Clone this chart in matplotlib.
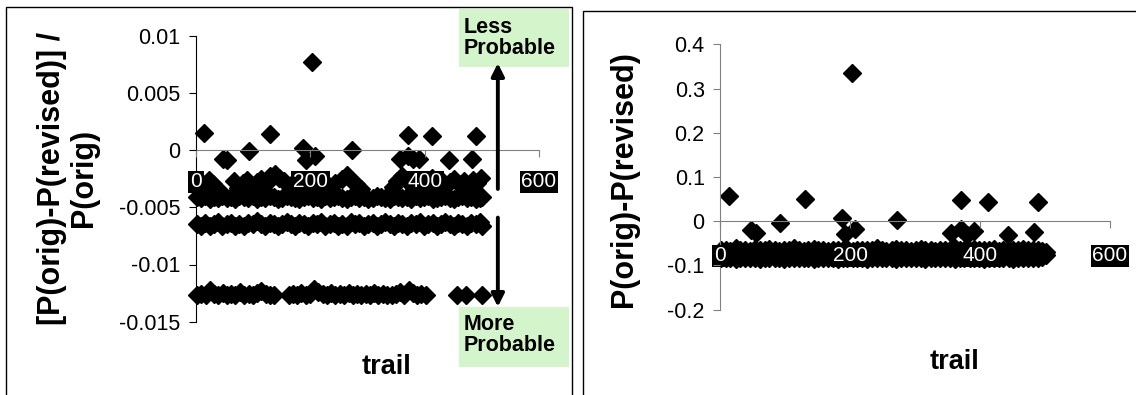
import matplotlib
matplotlib.use('Agg')
import matplotlib.pyplot as plt
from matplotlib.patches import Rectangle

plt.rcParams['font.family'] = ['Liberation Sans', 'DejaVu Sans']

# trials that stand apart from the bands (same trials in both panels)
out_trials = [14, 48, 55, 92, 130, 187, 193, 203, 208, 273, 356, 371, 371, 380, 390, 412, 443, 483, 489]
rel_out = [0.0015, -0.0008, -0.0009, -0.0001, 0.0014, 0.0002, -0.0009, 0.0077, -0.0005, 0.0,
           -0.0008, 0.0013, -0.0005, -0.0008, -0.0008, 0.0012, -0.0009, -0.0008, 0.0012]
abs_out = [0.056, -0.019, -0.026, -0.004, 0.05, 0.008, -0.029, 0.336, -0.017, 0.002,
           -0.026, 0.049, -0.017, -0.03, -0.023, 0.044, -0.03, -0.024, 0.043]

# trials sampled along the dense bands
dense_trials = [2, 9, 16, 24, 31, 39, 46, 54, 61, 69,
                76, 84, 91, 99, 106, 114, 121, 129, 136, 144,
                151, 159, 166, 174, 181, 189, 196, 204, 211, 219,
                226, 234, 241, 249, 256, 264, 271, 279, 286, 294,
                301, 309, 316, 324, 331, 339, 346, 354, 361, 369,
                376, 384, 391, 399, 406, 414, 421, 429, 436, 444,
                451, 459, 466, 474, 481, 489, 496, 501]

# left panel: relative change
rel_band1_low = [-0.0041, -0.0042, -0.0040, -0.0043, -0.0041, -0.0042, -0.0040, -0.0042, -0.0041, -0.0043,
                 -0.0040, -0.0041, -0.0042, -0.0040, -0.0043, -0.0041, -0.0042, -0.0040, -0.0041, -0.0043,
                 -0.0042, -0.0040, -0.0041, -0.0042, -0.0043, -0.0041, -0.0040, -0.0042, -0.0041, -0.0043,
                 -0.0040, -0.0042, -0.0041, -0.0040, -0.0042, -0.0043, -0.0041, -0.0040, -0.0042, -0.0041,
                 -0.0043, -0.0042, -0.0040, -0.0041, -0.0042, -0.0043, -0.0040, -0.0041, -0.0042, -0.0041,
                 -0.0043, -0.0040, -0.0042, -0.0041, -0.0040, -0.0043, -0.0042, -0.0041, -0.0040, -0.0042,
                 -0.0043, -0.0041, -0.0040, -0.0042, -0.0041, -0.0043, -0.0042, -0.0041]
rel_band2 = [-0.0065, -0.0066, -0.0064, -0.0066, -0.0065, -0.0063, -0.0066, -0.0065, -0.0064, -0.0066,
             -0.0065, -0.0066, -0.0064, -0.0065, -0.0062, -0.0065, -0.0066, -0.0064, -0.0065, -0.0066,
             -0.0065, -0.0063, -0.0065, -0.0066, -0.0064, -0.0065, -0.0066, -0.0064, -0.0065, -0.0063,
             -0.0066, -0.0065, -0.0064, -0.0066, -0.0065, -0.0066, -0.0063, -0.0065, -0.0064, -0.0066,
             -0.0065, -0.0064, -0.0066, -0.0065, -0.0063, -0.0065, -0.0066, -0.0064, -0.0065, -0.0066,
             -0.0064, -0.0065, -0.0063, -0.0066, -0.0065, -0.0064, -0.0066, -0.0065, -0.0063, -0.0065,
             -0.0066, -0.0064, -0.0065, -0.0066, -0.0064, -0.0065, -0.0063, -0.0066]
rel_band1_high_trials = [8, 15, 22, 30, 38, 66, 74, 82, 90, 98,
                         106, 114, 122, 130, 138, 146, 154, 162, 170, 178,
                         186, 216, 224, 232, 244, 256, 264, 272, 280, 288,
                         345, 352, 360, 368, 376, 384, 396, 404, 412, 420,
                         428, 436, 444, 452, 460, 468, 476, 484, 492, 498]
rel_band1_high = [-0.0028, -0.0032, -0.0026, -0.0030, -0.0034, -0.0027, -0.0033, -0.0029, -0.0026, -0.0032,
                  -0.0028, -0.0025, -0.0030, -0.0023, -0.0021, -0.0024, -0.0027, -0.0031, -0.0029, -0.0034,
                  -0.0030, -0.0031, -0.0027, -0.0033, -0.0029, -0.0025, -0.0022, -0.0026, -0.0030, -0.0034,
                  -0.0032, -0.0027, -0.0023, -0.0026, -0.0030, -0.0028, -0.0032, -0.0027, -0.0024, -0.0029,
                  -0.0026, -0.0031, -0.0028, -0.0025, -0.0030, -0.0027, -0.0033, -0.0026, -0.0029, -0.0024]
rel_band3_trials = [2, 9, 17, 24, 32, 39, 47, 54, 62, 69,
                    77, 84, 92, 99, 107, 114, 122, 129, 136, 162,
                    169, 177, 184, 192, 199, 207, 214, 222, 229, 237,
                    244, 252, 259, 267, 274, 282, 289, 297, 304, 312,
                    319, 327, 334, 342, 349, 357, 364, 372, 379, 387,
                    394, 402, 457, 472, 500]
rel_band3 = [-0.0127, -0.0126, -0.0127, -0.0122, -0.0126, -0.0127, -0.0125, -0.0127, -0.0126, -0.0127,
             -0.0124, -0.0127, -0.0126, -0.0127, -0.0125, -0.0123, -0.0126, -0.0127, -0.0127, -0.0127,
             -0.0126, -0.0127, -0.0125, -0.0127, -0.0126, -0.0121, -0.0124, -0.0126, -0.0127, -0.0125,
             -0.0127, -0.0126, -0.0127, -0.0125, -0.0127, -0.0126, -0.0127, -0.0126, -0.0127, -0.0125,
             -0.0127, -0.0126, -0.0127, -0.0127, -0.0126, -0.0124, -0.0127, -0.0122, -0.0125, -0.0127,
             -0.0126, -0.0127, -0.0127, -0.0127, -0.0127]

# right panel: absolute change
abs_band_high = [-0.066, -0.064, -0.067, -0.061, -0.066, -0.065, -0.067, -0.063, -0.066, -0.065,
                 -0.062, -0.066, -0.067, -0.064, -0.066, -0.060, -0.065, -0.067, -0.066, -0.063,
                 -0.066, -0.065, -0.067, -0.064, -0.066, -0.065, -0.062, -0.067, -0.066, -0.065,
                 -0.064, -0.066, -0.061, -0.065, -0.067, -0.066, -0.063, -0.066, -0.065, -0.067,
                 -0.066, -0.062, -0.065, -0.066, -0.067, -0.064, -0.066, -0.065, -0.061, -0.066,
                 -0.065, -0.067, -0.063, -0.066, -0.065, -0.066, -0.062, -0.067, -0.065, -0.066,
                 -0.064, -0.066, -0.063, -0.065, -0.066, -0.064, -0.067, -0.070]
abs_band_low = [-0.083, -0.084, -0.082, -0.085, -0.083, -0.084, -0.082, -0.083, -0.085, -0.084,
                -0.083, -0.082, -0.084, -0.085, -0.083, -0.084, -0.082, -0.083, -0.084, -0.085,
                -0.083, -0.082, -0.084, -0.083, -0.085, -0.084, -0.083, -0.082, -0.084, -0.083,
                -0.085, -0.084, -0.083, -0.082, -0.084, -0.083, -0.085, -0.084, -0.083, -0.082,
                -0.084, -0.083, -0.085, -0.084, -0.083, -0.082, -0.084, -0.083, -0.085, -0.084,
                -0.083, -0.082, -0.084, -0.083, -0.085, -0.084, -0.083, -0.082, -0.084, -0.083,
                -0.085, -0.084, -0.083, -0.082, -0.084, -0.083, -0.080, -0.076]

x_ticks = [0, 200, 400, 600]
rel_ticks = [0.01, 0.005, 0, -0.005, -0.01, -0.015]
rel_tick_labels = ['0.01', '0.005', '0', '-0.005', '-0.01', '-0.015']
abs_ticks = [0.4, 0.3, 0.2, 0.1, 0, -0.1, -0.2]
abs_tick_labels = ['0.4', '0.3', '0.2', '0.1', '0', '-0.1', '-0.2']

W, H = 1136, 395
fig = plt.figure(figsize=(W / 100, H / 100), dpi=100)


def px_box(x0, y0, x1, y1):
    # pixel rectangle (from top-left) -> figure fraction [l, b, w, h]
    return [x0 / W, 1 - y1 / H, (x1 - x0) / W, (y1 - y0) / H]


def style(ax, yticks, ylabels, ylim, ycolor, xpad):
    ax.set_xlim(0, 600)
    ax.set_ylim(*ylim)
    ax.patch.set_visible(False)
    for s in ['top', 'right']:
        ax.spines[s].set_visible(False)
    ax.spines['bottom'].set_position(('data', 0))
    ax.spines['bottom'].set_color('#808080')
    ax.spines['left'].set_color(ycolor)
    ax.set_xticks(x_ticks)
    ax.set_xticklabels([str(t) for t in x_ticks])
    ax.set_yticks(yticks)
    ax.set_yticklabels(ylabels)
    ax.tick_params(axis='x', direction='out', length=5, color='#808080', pad=xpad,
                   labelsize=15, labelcolor='white')
    ax.tick_params(axis='y', direction='out', length=5, color=ycolor, pad=6, labelsize=15.5)
    for lbl in ax.get_xticklabels():
        lbl.set_bbox(dict(boxstyle='square,pad=0.08', fc='black', ec='none'))
    ax.set_axisbelow(False)


mk = dict(ls='none', marker='D', ms=8.8, color='black', mec='black', clip_on=False)

ax1 = fig.add_axes(px_box(196, 35.7, 539, 321.7))
ax1.set_zorder(2)
ax1.plot(rel_band3_trials, rel_band3, **mk)
ax1.plot(dense_trials, rel_band2, **mk)
ax1.plot(dense_trials, rel_band1_low, **mk)
ax1.plot(rel_band1_high_trials, rel_band1_high, **mk)
ax1.plot(out_trials, rel_out, **mk)
style(ax1, rel_ticks, rel_tick_labels, (-0.015, 0.01), 'black', 11)

arrow = dict(arrowstyle='-|>', color='black', lw=2.8, mutation_scale=19, shrinkA=0, shrinkB=0)
ax1.annotate('', xy=(528, 0.0076), xytext=(528, -0.0034), arrowprops=arrow, annotation_clip=False)
ax1.annotate('', xy=(528, -0.0137), xytext=(528, -0.0059), arrowprops=arrow, annotation_clip=False)

ax2 = fig.add_axes(px_box(720, 44.3, 1110, 309.7))
ax2.set_zorder(2)
ax2.plot(dense_trials, abs_band_low, **mk)
ax2.plot(dense_trials, abs_band_high, **mk)
ax2.plot(out_trials, abs_out, **mk)
style(ax2, abs_ticks, abs_tick_labels, (-0.2, 0.4), '#808080', 13)

# panel frames
fig.patches.append(Rectangle((6 / W, -0.05), 566 / W, 1.05 - 7 / H, transform=fig.transFigure,
                             fill=False, ec='black', lw=1, zorder=0))
fig.patches.append(Rectangle((583 / W, -0.05), 0.6, 1.05 - 11 / H, transform=fig.transFigure,
                             fill=False, ec='black', lw=1, zorder=0))

# green notes
for box in [px_box(459, 9, 569, 67), px_box(459, 307, 569, 367)]:
    fig.patches.append(Rectangle((box[0], box[1]), box[2], box[3], transform=fig.transFigure,
                                 fc='#d4f4cc', ec='none', zorder=1))
fig.text(464 / W, 1 - 17 / H, 'Less\nProbable', ha='left', va='top', fontsize=15.5,
         fontweight='bold', linespacing=1.0, zorder=3)
fig.text(464 / W, 1 - 314 / H, 'More\nProbable', ha='left', va='top', fontsize=15.5,
         fontweight='bold', linespacing=1.0, zorder=3)

# axis titles
fig.text(68 / W, 1 - 178 / H, '[P(orig)-P(revised)] /\nP(orig)', rotation=90, ha='center',
         va='center', multialignment='center', fontsize=22, fontweight='bold', linespacing=1.1)
fig.text(624 / W, 1 - 179 / H, 'P(orig)-P(revised)', rotation=90, ha='center', va='center',
         fontsize=22, fontweight='bold')
fig.text(386 / W, 1 - 367 / H, 'trail', ha='center', va='center', fontsize=19.5, fontweight='bold')
fig.text(954 / W, 1 - 362 / H, 'trail', ha='center', va='center', fontsize=19.5, fontweight='bold')

fig.savefig('out.png', dpi=100)
